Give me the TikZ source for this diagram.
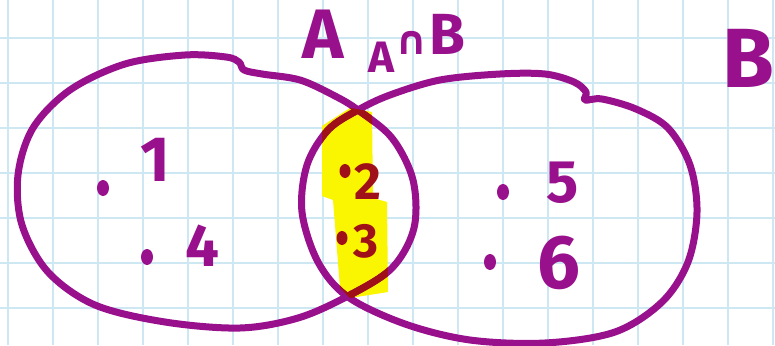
\documentclass[tikz,border=0pt]{standalone}
\usepackage{fontspec}
\setmainfont{Fira Sans}
\newfontfamily\symfont{DejaVu Sans}
\definecolor{pen}{RGB}{152,16,140}
\definecolor{penhl}{RGB}{160,16,24}
\definecolor{hl}{RGB}{250,245,0}
\definecolor{gridc}{RGB}{205,232,242}
\newcommand\curveA{plot[smooth cycle, tension=0.55] coordinates {(358,110) (392,138) (413,180) (414,228) (392,268) (348,296) (298,318) (240,328) (165,322) (95,305) (48,272) (22,225) (18,175) (33,128) (70,90) (125,64) (185,55) (226,57) (239,62) (244,70) (262,74) (300,80) (335,96)}}
\newcommand\curveB{plot[smooth cycle, tension=0.55] coordinates {(358,110) (390,95) (440,80) (500,74) (545,74) (574,82) (586,92) (585,100) (602,99) (636,109) (668,128) (690,165) (697,212) (688,262) (662,302) (615,332) (545,343) (470,340) (405,324) (348,297) (318,262) (302,212) (307,165) (328,130)}}
\newcommand\hlpath{(322,126) -- (350,108) -- (372,112) -- (373,198) -- (387,202) -- (388,292) -- (350,298) -- (340,288) -- (333,200) -- (322,196) -- cycle}
\begin{document}
\begin{tikzpicture}[x=1pt,y=-1pt,
  curve/.style={line width=7pt, line cap=round, line join=round},
  lbl/.style={text=pen, inner sep=0pt},
  gridline/.style={draw=gridc, line width=1.2pt}]
\useasboundingbox (0,0) rectangle (775,345);
\fill[white] (0,0) rectangle (775,345);
\foreach \x in {8,53,...,773} \draw[gridline] (\x,0) -- (\x,345);
\foreach \y in {38,83,...,308} \draw[gridline] (0,\y) -- (775,\y);
% highlight
\fill[hl] \hlpath;
% sets
\draw[curve, draw=pen] \curveA;
\draw[curve, draw=pen] \curveB;
\begin{scope}
  \clip \hlpath;
  \draw[curve, draw=penhl] \curveA;
  \draw[curve, draw=penhl] \curveB;
\end{scope}
% elements of A only
\fill[pen] (103,188) ellipse (6 and 8);
\node[lbl, font=\fontsize{64}{64}\selectfont\bfseries] (n1) at (155,160) {1};
\fill[pen] (147,257) ellipse (6 and 8);
\node[lbl, font=\fontsize{60}{60}\selectfont\bfseries] (n4) at (202,246) {4};
% intersection
\fill[penhl] (345,171) ellipse (5.5 and 7);
\node[lbl, text=penhl, font=\fontsize{52}{52}\selectfont\bfseries] (n2) at (368,182) {2};
\fill[penhl] (342,238) ellipse (5.5 and 7);
\node[lbl, text=penhl, font=\fontsize{48}{48}\selectfont\bfseries] (n3) at (366,241) {3};
% elements of B only
\fill[pen] (503,192) ellipse (6 and 8);
\node[lbl, font=\fontsize{60}{60}\selectfont\bfseries] (n5) at (563,183) {5};
\fill[pen] (490,262) ellipse (6 and 8);
\node[lbl, font=\fontsize{76}{76}\selectfont\bfseries] (n6) at (559,263) {6};
% labels
\node[lbl, font=\fontsize{70}{70}\selectfont\bfseries] (labA) at (323,34) {A};
\node[lbl, font=\fontsize{84}{84}\selectfont\bfseries] (labB) at (748,58) {B};
\node[lbl, anchor=base west] (labAB) at (368,54) {\raisebox{-18pt}{\fontsize{44}{44}\selectfont\bfseries A}\,{\symfont\bfseries\fontsize{40}{40}\selectfont ∩}\,{\fontsize{58}{58}\selectfont\bfseries B}};
\end{tikzpicture}
\end{document}
